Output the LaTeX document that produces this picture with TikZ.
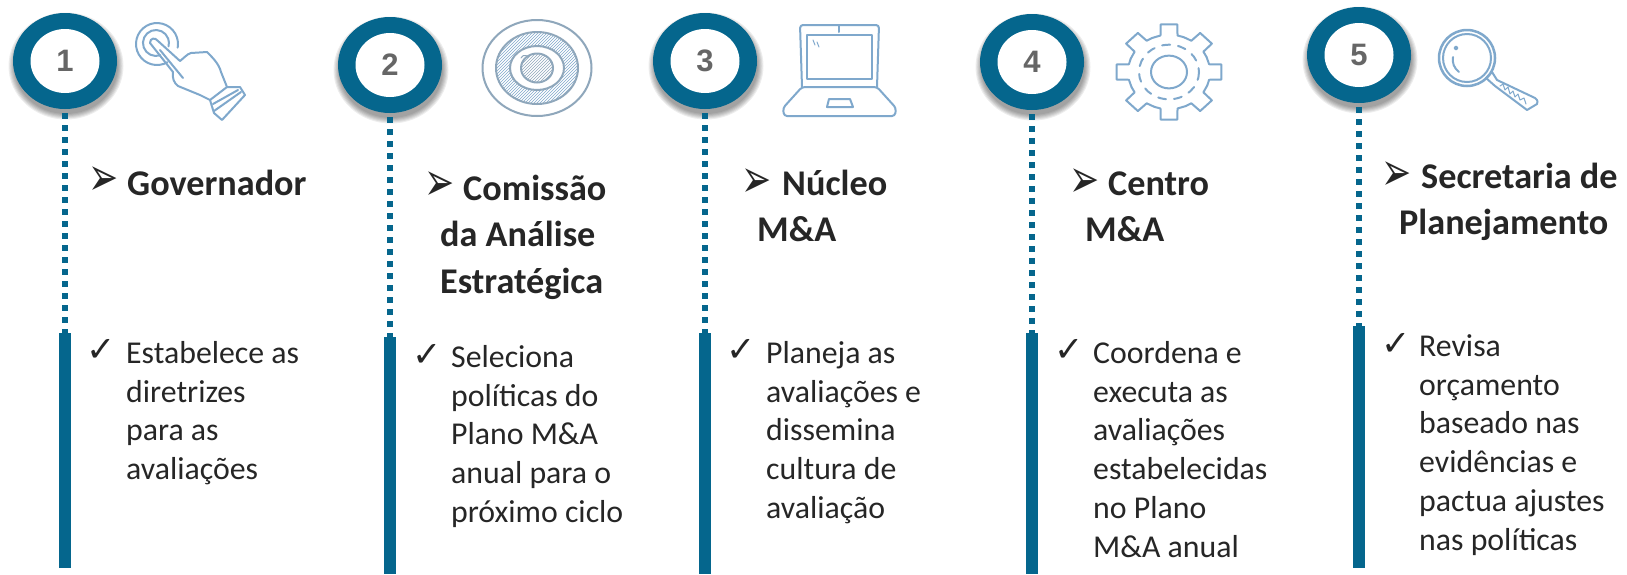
\documentclass[tikz,border=0pt]{standalone}
\usepackage{fontspec}
\setmainfont{Carlito}
\newfontfamily\numfont{Liberation Sans}
\newfontfamily\symfont{DejaVu Sans}
\usetikzlibrary{shapes.geometric,patterns}
\definecolor{tealc}{HTML}{05668D}
\definecolor{ink}{HTML}{262626}
\definecolor{sketch}{HTML}{7FA8CC}
\definecolor{sketchg}{HTML}{8FA7BB}
\tikzset{
  x=1pt,y=-1pt,
  ring/.style={ellipse,minimum width=104pt,minimum height=96pt,inner sep=0pt,outer sep=0pt,fill=tealc},
  hole/.style={ellipse,minimum width=69pt,minimum height=64pt,inner sep=0pt,outer sep=0pt,fill=white,text=black!60,font=\numfont\bfseries\fontsize{31}{31}\selectfont},
  dots/.style={draw=tealc,line width=6pt,dash pattern=on 6pt off 6pt},
  barbox/.style={fill=tealc,draw=none,minimum width=12pt,inner sep=0pt,outer sep=0pt},
  head/.style={anchor=north west,align=left,text=ink,font=\bfseries\fontsize{36.2}{46.5}\selectfont,inner sep=0pt},
  body/.style={anchor=north west,align=left,text=ink,font=\fontsize{31.8}{38.8}\selectfont,inner sep=0pt},
  tick/.style={inner sep=0pt,text=ink,font=\symfont\fontsize{35}{35}\selectfont},
  pointer/.style={inner sep=0pt,text=ink,font=\symfont\fontsize{36}{36}\selectfont},
  sk/.style={draw=sketch,line width=2pt,line join=round,line cap=round},
  shadowring/.style={fill=black,opacity=.07,draw=none}
}
\newcommand{\chevmark}{\scalebox{1}[1.5]{➢}}
\newcommand{\stepcol}[6]{%
 \foreach \g in {0,1,...,5}{\fill[shadowring] (#2+1,#3+5) ellipse[x radius=52+\g*1.1,y radius=48+\g*1.1];}
 \node[ring] (r#1) at (#2,#3) {};
 \node[hole] (n#1) at (#2,#3) {#4};
 \node[barbox,minimum height={(#6-#5)*1pt}] (bar#1) at (#2,{(#5+#6)/2}) {};
 \draw[dots] (r#1.south) ++(0,4) -- (bar#1.north);
}
\begin{document}
\begin{tikzpicture}
\useasboundingbox[fill=white] (0,0) rectangle (1627,574);
\stepcol{1}{65}{61}{1}{333}{568}
\stepcol{2}{390}{65}{2}{337}{574}
\stepcol{3}{705}{61}{3}{333}{574}
\stepcol{4}{1032}{62}{4}{333}{574}
\stepcol{5}{1359}{55}{5}{326}{568}
% headings
\node[pointer] (p1) at (103.5,181.5) {\chevmark};
\node[head] (h1) at (127,162.45) {\strut Governador};
\node[pointer] (p2) at (439.5,186.5) {\chevmark};
\node[head] (h2) at (440,167.45) {\strut\hspace*{23pt}Comissão\\da Análise\\Estratégica};
\node[pointer] (p3) at (756.5,183) {\chevmark};
\node[head] (h3) at (757,162.45) {\strut\hspace*{25pt}Núcleo\\M\&A};
\node[pointer] (p4) at (1084.5,183) {\chevmark};
\node[head] (h4) at (1085,162.45) {\strut\hspace*{23pt}Centro\\M\&A};
\node[pointer] (p5) at (1397,176) {\chevmark};
\node[head] (h5) at (1399,155.45) {\strut\hspace*{22pt}Secretaria de\\Planejamento};
% body
\node[tick] (t1) at (101,350) {✓};
\node[body] (b1) at (126,336) {\strut Estabelece as\\diretrizes\\para as\\avaliações};
\node[tick] (t2) at (427,355) {✓};
\node[body] (b2) at (451,340) {\strut Seleciona\\políticas do\\Plano M\&A\\anual para o\\próximo ciclo};
\node[tick] (t3) at (741,350) {✓};
\node[body] (b3) at (766,336) {\strut Planeja as\\avaliações e\\dissemina\\cultura de\\avaliação};
\node[tick] (t4) at (1069,350) {✓};
\node[body] (b4) at (1093,336) {\strut Coordena e\\executa as\\avaliações\\estabelecidas\\no Plano\\M\&A anual};
\node[tick] (t5) at (1396,344) {✓};
\node[body] (b5) at (1419,329) {\strut Revisa\\orçamento\\baseado nas\\evidências e\\pactua ajustes\\nas políticas};
% hand icon
\begin{scope}[sk]
 \draw (167.5,62.2) arc[start angle=60,end angle=370,radius=21];
 \draw (160.4,55.2) arc[start angle=70,end angle=375,radius=13];
 \draw (150,43) .. controls (150,38) and (155,37) .. (158,41) -- (180,61) .. controls (184,58) and (187,54) .. (191,53) -- (207,52) .. controls (213,58) and (219,64) .. (221,72) -- (227,87);
 \draw (150,43) -- (173,72) .. controls (172,78) and (174,83) .. (178,86) -- (200,95) -- (210,100);
 \draw (160,50) -- (183,78);
 \draw (227,87) -- (240,87) -- (245,95) -- (222,120) -- (214,113) -- (210,100) -- cycle;
 \draw (213,104) -- (238,90);
 \draw (214,111) -- (241,92);
\end{scope}
% target icon
\begin{scope}[sk,draw=sketchg]
 \draw (537,68) ellipse[x radius=54.5,y radius=48];
 \draw[even odd rule,pattern=north east lines,pattern color=sketch]
   (537,68) ellipse[x radius=41,y radius=36] (537,68) ellipse[x radius=27,y radius=22];
 \draw[pattern=north east lines,pattern color=sketchg] (537,68) ellipse[x radius=16,y radius=14.5];
 \draw[line width=1pt] (521,58) arc[start angle=200,end angle=330,radius=4];
\end{scope}
% laptop icon
\begin{scope}[sk]
 \draw[rounded corners=3pt] (802,87) -- (800,25) -- (879,25) -- (877,87);
 \draw (807,35) rectangle (872,79);
 \draw (839,26) -- (839,32);
 \draw[rounded corners=3pt] (802,87) -- (877,87) -- (896,108) -- (895,116) -- (784,116) -- (783,108) -- cycle;
 \draw (829,99) -- (850,99) -- (853,107) -- (827,107) -- cycle;
 \draw[line width=1pt] (813,40) -- (815,45) (817,42) -- (819,47);
\end{scope}
% gear icon
\begin{scope}[sk,shift={(1169,72)},yscale=.91]
 \foreach \a in {0,45,...,315}{
  \draw (\a-24:41) -- (\a-12:41) -- (\a-9:53) -- (\a+9:53) -- (\a+12:41) -- (\a+21:41);
 }
 \draw[dash pattern=on 8pt off 8pt] (0,0) circle[radius=30];
 \draw (0,0) circle[radius=18];
\end{scope}
% magnifier icon
\begin{scope}[sk]
 \draw[line width=2.5pt] (1467,58) circle[radius=28];
 \draw (1467,58) circle[radius=24];
 \draw[line width=2pt] (1456,48) circle[radius=1.5];
 \draw (1453,57) .. controls (1452,63) and (1454,68) .. (1459,72);
 \draw (1486,78) -- (1492,72) -- (1497,80) -- (1535,98) .. controls (1538,100) and (1538,103) .. (1537,104) -- (1527,110) -- (1495,86) -- cycle;
 \draw[line width=1pt] (1500,86) -- (1503,84) -- (1505,90) -- (1508,87) -- (1510,94) -- (1513,91) -- (1515,97) -- (1518,94) -- (1520,100) -- (1524,98) -- (1526,104);
\end{scope}
\end{tikzpicture}
\end{document}
